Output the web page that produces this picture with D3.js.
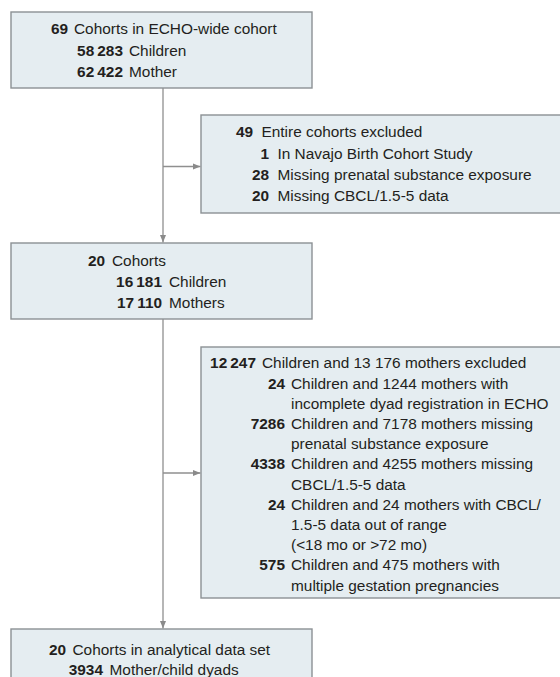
<!DOCTYPE html>
<html>
<head>
<meta charset="utf-8">
<script src="https://cdn.jsdelivr.net/npm/d3@7"></script>
<style>
  body { margin: 0; background: #fff; }
  svg { display: block; }
</style>
</head>
<body>
<svg width="560" height="677"></svg>
<script>
// box contents: [count, label lines]
var box1Head = ["69", "Cohorts in ECHO-wide cohort"];
var box1Rows = [["58\u2009283", ["Children"]], ["62\u2009422", ["Mother"]]];

var box2Head = ["49", "Entire cohorts excluded"];
var box2Rows = [
    ["1", ["In Navajo Birth Cohort Study"]],
    ["28", ["Missing prenatal substance exposure"]],
    ["20", ["Missing CBCL/1.5-5 data"]]
];

var box3Head = ["20", "Cohorts"];
var box3Rows = [["16\u2009181", ["Children"]], ["17\u2009110", ["Mothers"]]];

var box4Head = ["12\u2009247", "Children and 13 176 mothers excluded"];
var box4Rows = [
    ["24", ["Children and 1244 mothers with", "incomplete dyad registration in ECHO"]],
    ["7286", ["Children and 7178 mothers missing", "prenatal substance exposure"]],
    ["4338", ["Children and 4255 mothers missing", "CBCL/1.5-5 data"]],
    ["24", ["Children and 24 mothers with CBCL/", "1.5-5 data out of range", "(<18 mo or >72 mo)"]],
    ["575", ["Children and 475 mothers with", "multiple gestation pregnancies"]]
];

var box5Head = ["20", "Cohorts in analytical data set"];
var box5Rows = [["3934", ["Mother/child dyads"]]];

var svg = d3.select("svg");
var font = "'Liberation Sans', Arial, sans-serif";

// layout of each box
var boxes = [
    {head: box1Head, rows: box1Rows, x0: 11, x1: 312, y0: 12, y1: 88, headEnd: 68, subEnd: 123, gap: 6, first: 34.3, lh: 21.2},
    {head: box2Head, rows: box2Rows, x0: 201, x1: 566, y0: 115, y1: 213, headEnd: 253, subEnd: 269, gap: 8.5, first: 137.3, lh: 21.2},
    {head: box3Head, rows: box3Rows, x0: 11, x1: 312, y0: 243, y1: 319, headEnd: 105, subEnd: 162, gap: 7, first: 265.7, lh: 21.3},
    {head: box4Head, rows: box4Rows, x0: 201, x1: 566, y0: 347, y1: 598, headEnd: 256, subEnd: 285, gap: 6, first: 368.3, lh: 20.2},
    {head: box5Head, rows: box5Rows, x0: 11, x1: 312, y0: 629, y1: 700, headEnd: 66, subEnd: 103, gap: 6.5, first: 654.5, lh: 20}
];

var trunkX = 163;

svg.append("defs").append("marker")
    .attr("id", "arr")
    .attr("viewBox", "0 0 10 10")
    .attr("refX", 10)
    .attr("refY", 5)
    .attr("markerWidth", 8)
    .attr("markerHeight", 8)
    .attr("markerUnits", "userSpaceOnUse")
    .attr("orient", "auto")
    .append("path")
    .attr("d", "M0,1 L10,5 L0,9 Z")
    .attr("fill", "#8a8a8a");

var lines = svg.append("g")
    .attr("stroke", "#8f8f8f")
    .attr("stroke-width", 1.3)
    .attr("fill", "none");

// vertical trunk
lines.append("line")
    .attr("x1", trunkX).attr("x2", trunkX)
    .attr("y1", boxes[0].y1).attr("y2", boxes[2].y0 - 0.5)
    .attr("marker-end", "url(#arr)");
lines.append("line")
    .attr("x1", trunkX).attr("x2", trunkX)
    .attr("y1", boxes[2].y1).attr("y2", boxes[4].y0 - 0.5)
    .attr("marker-end", "url(#arr)");

// side arrows into exclusion boxes
[{box: boxes[1], y: 166.5}, {box: boxes[3], y: 473}].forEach(function(b) {
    lines.append("line")
        .attr("x1", trunkX).attr("x2", b.box.x0 - 0.5)
        .attr("y1", b.y).attr("y2", b.y)
        .attr("marker-end", "url(#arr)");
});

var g = svg.selectAll("g.box")
    .data(boxes)
    .enter().append("g")
    .attr("class", "box");

g.append("rect")
    .attr("x", function(d) { return d.x0; })
    .attr("y", function(d) { return d.y0; })
    .attr("width", function(d) { return d.x1 - d.x0; })
    .attr("height", function(d) { return d.y1 - d.y0; })
    .attr("fill", "#e5edf1")
    .attr("stroke", "#8c9194")
    .attr("stroke-width", 1.4);

g.each(function(d) {
    var el = d3.select(this);
    var y = d3.scaleLinear().domain([0, 1]).range([d.first, d.first + d.lh]);
    var txt = el.append("g")
        .attr("font-family", font)
        .attr("font-size", "15.4px")
        .attr("fill", "#231f20");

    txt.append("text")
        .attr("x", d.headEnd).attr("y", y(0))
        .attr("text-anchor", "end")
        .attr("font-weight", "bold")
        .text(d.head[0]);
    txt.append("text")
        .attr("x", d.headEnd + d.gap).attr("y", y(0))
        .text(d.head[1]);

    var line = 1;
    d.rows.forEach(function(r) {
        txt.append("text")
            .attr("x", d.subEnd).attr("y", y(line))
            .attr("text-anchor", "end")
            .attr("font-weight", "bold")
            .text(r[0]);
        r[1].forEach(function(s) {
            txt.append("text")
                .attr("x", d.subEnd + d.gap).attr("y", y(line))
                .text(s);
            line++;
        });
    });
});
</script>
</body>
</html>
